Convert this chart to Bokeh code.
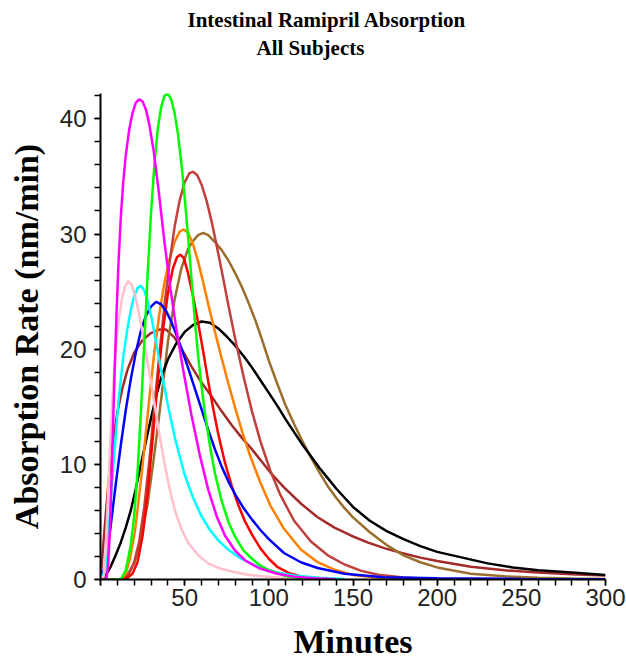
from bokeh.plotting import figure
from bokeh.models import Range1d, FixedTicker, Title
from bokeh.embed import file_html
from bokeh.resources import INLINE

# ---------------- data ----------------
title_line1 = "Intestinal Ramipril Absorption"
title_line2 = "All Subjects"
x_label = "Minutes"
y_label = "Absorption Rate (nm/min)"

x_ticks = [0, 50, 100, 150, 200, 250, 300]
y_ticks = [0, 10, 20, 30, 40]

magenta_t = [0, 3.5, 4.5, 5.5, 6.5, 7.5, 8.5, 9.5, 10.7, 12, 13.5, 15, 17, 19, 21, 23, 25, 27, 29, 31.5,
             34.5, 38, 41.5, 45, 49, 54, 59, 64, 69, 74, 80, 86, 94, 105, 115, 127, 140]
magenta_v = [0, 0, 1.2, 4, 8.5, 13.5, 18.5, 23, 27.5, 31.3, 34.5, 36.8, 39, 40.5, 41.4, 41.7, 41.5, 40.8,
             39.5, 37.3, 33.8, 29.3, 25.3, 21.8, 18.3, 14.3, 10.8, 7.8, 5.5, 3.8, 2.5, 1.65, 1.0, 0.5,
             0.25, 0.1, 0.03]

green_t = [0, 12, 15, 18, 20, 22, 24, 26, 28, 30, 32, 34, 36, 38, 40, 42, 44, 46, 48, 50, 52, 54, 56, 58,
           60, 62, 65, 68, 72, 76, 80, 85, 90, 95, 100, 110, 120]
green_v = [0, 0, 0.8, 3, 5.5, 9.3, 14.5, 20.5, 26.5, 31.8, 36.0, 39.1, 41.0, 42.0, 42.2, 41.7, 40.5, 38.7,
           36.2, 33.2, 29.8, 26.2, 22.6, 19.4, 16.8, 14.5, 11.6, 9.2, 6.8, 5.0, 3.7, 2.5, 1.8, 1.2, 0.8,
           0.3, 0.1]

firebrick_t = [0, 14, 17, 20, 23, 26, 29, 32, 35, 38, 41, 44, 47, 50, 53, 55, 57.5, 60, 63, 66, 69, 72, 76,
               80, 85, 90, 95, 101, 107, 115, 125, 135, 145, 155, 165, 180, 195]
firebrick_v = [0, 0, 0.5, 1.5, 3.3, 6.3, 10.3, 15, 19.6, 23.8, 27.5, 30.6, 32.9, 34.5, 35.3, 35.4, 35.1,
               34.3, 32.9, 31.1, 29.0, 26.8, 23.8, 20.9, 17.6, 14.6, 12.0, 9.4, 7.3, 5.1, 3.3, 2.1, 1.3,
               0.75, 0.42, 0.17, 0.06]

orange_t = [0, 13, 15, 17.5, 20.5, 24.5, 28.5, 32, 35, 38, 41, 44, 47, 49.5, 52, 55, 58, 61, 64, 68, 72, 76,
            80, 84, 89, 95, 101, 109, 119, 129, 140, 150, 165, 180]
orange_v = [0, 0, 0.5, 1.8, 4.2, 9.2, 15, 19.8, 23.1, 25.8, 27.8, 29.3, 30.2, 30.4, 30.1, 29.1, 27.6, 25.8,
            23.9, 21.5, 19.2, 17.0, 14.9, 12.9, 10.7, 8.4, 6.4, 4.4, 2.6, 1.5, 0.8, 0.4, 0.15, 0.05]

olive_t = [0, 12, 16, 20, 24, 28, 32, 36, 40, 44, 48, 52, 55, 58, 61, 64, 68, 72, 76, 80, 84, 88, 92, 96,
           100, 105, 110, 115, 120, 125, 130, 135, 140, 145, 150, 160, 170, 180, 190, 200, 220, 240, 260,
           280, 300]
olive_v = [0, 0, 0.4, 1.4, 3.4, 6.6, 10.9, 15.6, 20.6, 24.3, 27.0, 28.7, 29.4, 29.9, 30.1, 29.9, 29.3, 28.6,
           27.7, 26.6, 25.4, 24.0, 22.5, 20.8, 19.0, 17.0, 15.1, 13.5, 12.0, 10.6, 9.3, 8.1, 7.1, 6.2, 5.4,
           4.1, 3.0, 2.1, 1.5, 1.05, 0.5, 0.28, 0.15, 0.08, 0.05]

red_t = [0, 12, 16, 19, 22, 25, 28, 31, 34, 37, 40, 43, 45.5, 47.5, 49.5, 52, 55, 58, 61, 64, 67, 70, 74, 78,
         82, 86, 90, 95, 100, 105, 112, 120, 135]
red_v = [0, 0, 0.15, 0.5, 1.5, 3.8, 7.5, 12.2, 17.2, 21.5, 24.8, 27.0, 28.0, 28.2, 27.9, 26.6, 24.6, 22.3,
         19.8, 17.2, 14.8, 12.6, 10.1, 8.1, 6.4, 5.0, 3.9, 2.7, 1.8, 1.1, 0.55, 0.25, 0.06]

pink_t = [0, 2, 3, 4, 5, 6, 7, 8, 9.5, 11, 12.5, 14.5, 16.5, 18.5, 20.5, 23, 26, 29, 32, 35, 38, 41, 44, 48,
          52, 58, 64, 70, 78, 86, 94, 110, 125]
pink_v = [0, 0.3, 2.5, 5.7, 9.2, 12.6, 15.5, 17.9, 20.7, 22.7, 24.2, 25.4, 25.9, 25.6, 24.7, 23.0, 20.6,
          18.0, 15.3, 12.6, 10.1, 7.9, 6.1, 4.4, 3.2, 2.1, 1.4, 1.0, 0.7, 0.45, 0.3, 0.1, 0.03]

cyan_t = [0, 2.8, 4.8, 7.7, 10.7, 13.5, 16, 18, 20, 22, 24, 26, 28, 30.5, 33.5, 37, 40.5, 44.5, 50, 55, 60,
          65, 70, 75, 82, 92, 105, 115, 130, 145]
cyan_v = [0, 0.8, 4.2, 10, 15.5, 19.3, 21.8, 23.4, 24.6, 25.3, 25.5, 25.1, 24.2, 22.6, 20.2, 17.4, 14.8,
          12.1, 9.1, 7.1, 5.5, 4.3, 3.4, 2.7, 1.95, 1.2, 0.6, 0.35, 0.15, 0.05]

blue_t = [0, 3, 6, 9, 12, 15, 18, 21, 24, 27, 30, 33, 36, 39, 42, 45, 48.5, 52, 56, 60, 64, 68, 72, 76, 80,
          85, 90, 95, 100, 109, 119, 129, 145, 168, 200, 250, 300]
blue_v = [0, 1.2, 4.6, 8.2, 11.6, 14.7, 17.4, 19.7, 21.6, 22.9, 23.7, 24.1, 23.9, 23.3, 22.4, 21.3, 19.9,
          18.4, 16.6, 14.8, 13.0, 11.3, 9.8, 8.5, 7.4, 6.2, 5.2, 4.3, 3.5, 2.3, 1.5, 1.0, 0.5, 0.2, 0.1,
          0.05, 0.02]

black_t = [0, 3, 6, 9, 12, 15, 18, 21, 24, 27, 30, 33, 36, 40, 45, 50, 55, 60, 65, 70, 75, 80, 85, 90, 95,
           100, 105, 110, 115, 120, 125, 130, 135, 140, 145, 150, 160, 170, 180, 190, 200, 215, 230, 245,
           260, 280, 300]
black_v = [0, 0.35, 1.1, 2.1, 3.2, 4.5, 6, 7.9, 10, 12, 14, 15.9, 17.5, 19.1, 20.5, 21.5, 22.1, 22.4, 22.3,
           21.8, 21.1, 20.3, 19.4, 18.4, 17.3, 16.2, 15.1, 13.9, 12.8, 11.7, 10.7, 9.7, 8.8, 7.9, 7.1,
           6.3, 5.1, 4.2, 3.5, 2.9, 2.4, 1.9, 1.4, 1.05, 0.8, 0.6, 0.4]

brown_t = [0, 1, 2.5, 4.5, 7, 10, 13, 16, 20, 25, 30, 35, 39, 44, 49, 54, 60, 66, 72, 78, 84, 90, 96, 102,
           109, 119, 129, 139, 149, 159, 169, 179, 190, 200, 220, 240, 260, 280, 300]
brown_v = [0, 1.8, 4.5, 8, 11.5, 14.5, 16.6, 18.2, 19.7, 20.8, 21.4, 21.7, 21.7, 21.0, 19.8, 18.5, 17.1,
           15.9, 14.6, 13.4, 12.3, 11.3, 10.2, 9.1, 8.0, 6.6, 5.4, 4.5, 3.8, 3.2, 2.7, 2.3, 1.9, 1.6,
           1.1, 0.8, 0.6, 0.45, 0.35]

series = [
    ("brown", brown_t, brown_v, "#A52A2A"),
    ("olive", olive_t, olive_v, "#9A6F2E"),
    ("black", black_t, black_v, "#000000"),
    ("orange", orange_t, orange_v, "#FF8000"),
    ("firebrick", firebrick_t, firebrick_v, "#C0403C"),
    ("red", red_t, red_v, "#FF0000"),
    ("blue", blue_t, blue_v, "#0000FF"),
    ("cyan", cyan_t, cyan_v, "#00FFFF"),
    ("pink", pink_t, pink_v, "#FFC0CB"),
    ("green", green_t, green_v, "#00FF00"),
    ("magenta", magenta_t, magenta_v, "#FF00FF"),
]

# ---------------- figure ----------------
W, H = 626, 662
p = figure(width=W, height=H, output_backend="svg", toolbar_location=None,
           x_range=Range1d(0, 300), y_range=Range1d(0, 42.2),
           min_border_left=100, min_border_right=21,
           min_border_top=93, min_border_bottom=83,
           title=None)
p.outline_line_color = None
p.xgrid.visible = False
p.ygrid.visible = False
p.background_fill_color = "white"
p.border_fill_color = "white"

for name, t, v, c in series:
    p.line(t, v, line_color=c, line_width=2.5)

tick_font = "Liberation Sans"
serif = "Liberation Serif"

xa = p.xaxis[0]
xa.ticker = FixedTicker(ticks=x_ticks, minor_ticks=list(range(0, 301, 10)))
xa.major_label_overrides = {0: ""}
ya = p.yaxis[0]
ya.ticker = FixedTicker(ticks=y_ticks, minor_ticks=list(range(0, 43, 2)))

for ax in (xa, ya):
    ax.axis_line_width = 2
    ax.axis_line_color = "black"
    ax.major_tick_in = 0
    ax.major_tick_out = 6
    ax.minor_tick_in = 0
    ax.minor_tick_out = 6
    ax.major_tick_line_width = 1.5
    ax.minor_tick_line_width = 1.5
    ax.major_label_text_font = tick_font
    ax.major_label_text_font_size = "24px"
    ax.major_label_text_color = "#222222"
    ax.axis_label_text_font = serif
    ax.axis_label_text_font_style = "bold"
    ax.axis_label_text_font_size = "34px"
    ax.axis_label_text_color = "black"

xa.axis_label = x_label
xa.major_label_standoff = 3
xa.axis_label_standoff = 14
ya.axis_label = y_label
ya.major_label_standoff = 8
ya.axis_label_standoff = 12

# titles: first added sits closest to the plot frame
p.add_layout(Title(text=" ", text_font_size="1px", standoff=30), "above")
p.add_layout(Title(text=title_line2, align="left", offset=156, standoff=2,
                   text_font=serif, text_font_style="bold", text_font_size="21px",
                   text_color="black"), "above")
p.add_layout(Title(text=title_line1, align="left", offset=87, standoff=2,
                   text_font=serif, text_font_style="bold", text_font_size="21px",
                   text_color="black"), "above")

open("out.html", "w").write(file_html(p, INLINE))
